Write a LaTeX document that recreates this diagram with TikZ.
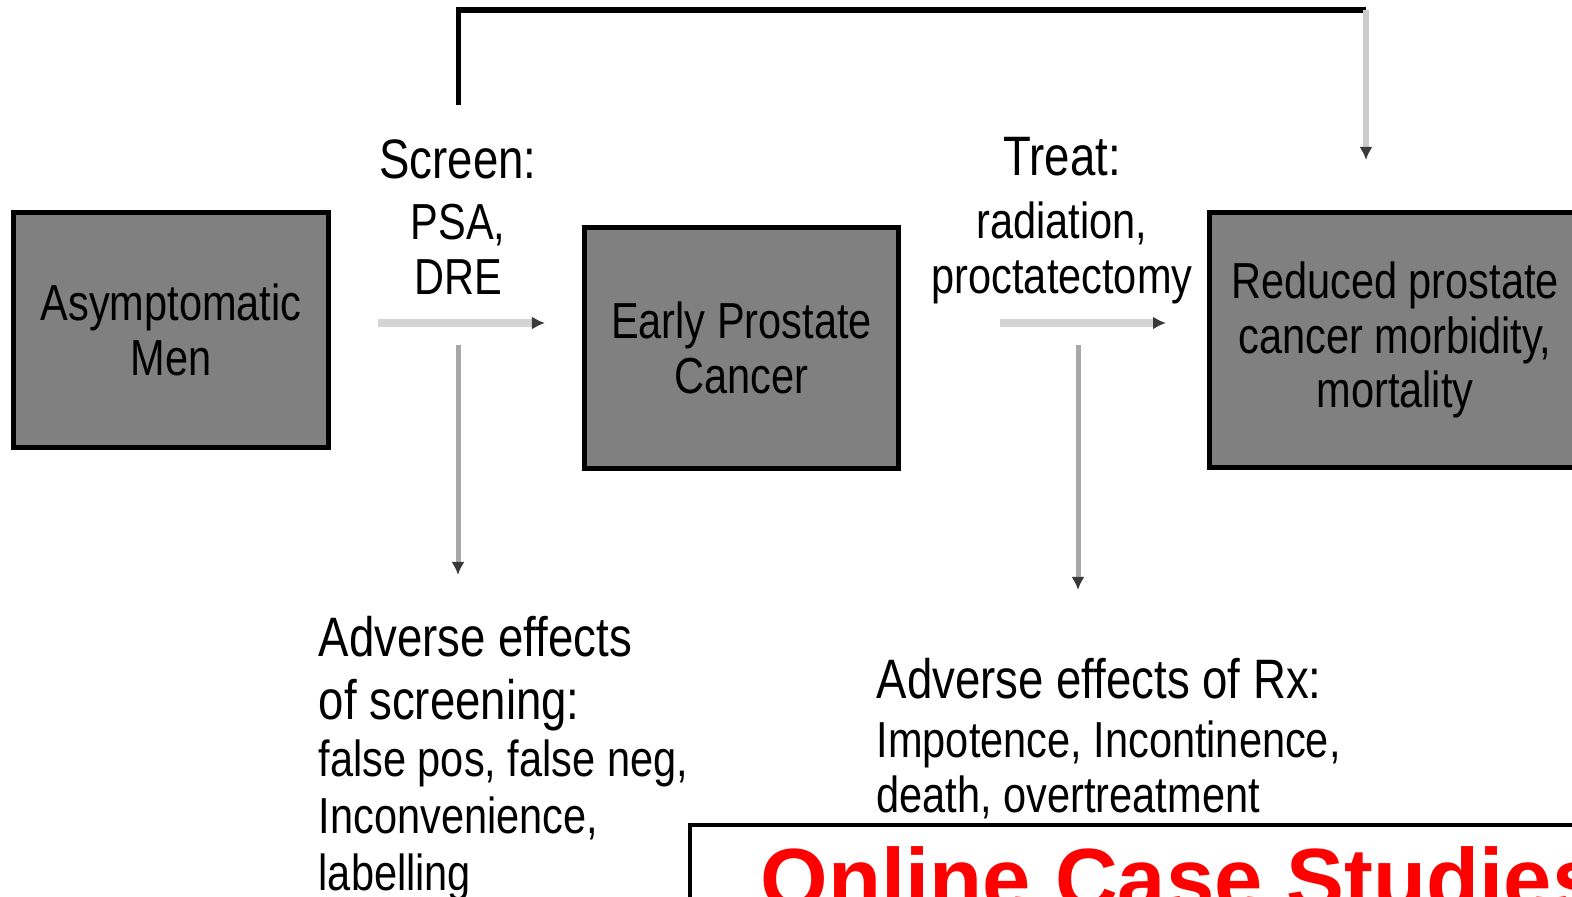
\documentclass[tikz,border=0pt]{standalone}
\usepackage{fontspec}
\setmainfont[FakeStretch=0.82]{Liberation Sans}
\newfontfamily\bannerfont{Liberation Sans}
\usepackage{tikz}
\usetikzlibrary{positioning,arrows.meta,calc}
\definecolor{boxgray}{HTML}{808080}
\definecolor{lightline}{HTML}{D4D4D4}
\definecolor{midline}{HTML}{A8A8A8}
\definecolor{tipdark}{HTML}{3A3A3A}
\definecolor{bannerred}{HTML}{FF0000}
\newcommand{\headsize}{\fontsize{15.8}{17}\selectfont}

\begin{document}
\begin{tikzpicture}[x=0.01cm, y=-0.01cm,
    stepbox/.style={draw=black, line width=0.05cm, fill=boxgray, align=center, inner sep=0pt, font=\fontsize{14.4}{15.6}\selectfont},
    lbl/.style={align=center, inner sep=0pt, font=\fontsize{14.4}{15.6}\selectfont},
    effects/.style={align=left, inner sep=0pt, font=\fontsize{14.4}{16.2}\selectfont},
    flowarrow/.style={draw=lightline, line width=0.08cm, -{Latex[length=0.13cm, width=0.13cm, color=tipdark]}},
    downarrow/.style={draw=midline, line width=0.05cm, -{Latex[length=0.13cm, width=0.13cm, color=tipdark]}}]
        \useasboundingbox (0,0) rectangle (1572,897);
        \clip (0,0) rectangle (1572,897);
        \node[stepbox, minimum width=3.14cm, minimum height=2.34cm] (asym) at (171,330) {Asymptomatic\\Men};
        \node[stepbox, minimum width=3.13cm, minimum height=2.40cm] (early) at (741.5,348) {Early Prostate\\Cancer};
        \node[stepbox, minimum width=3.70cm, minimum height=2.54cm] (reduced) at (1395,340) {Reduced prostate\\cancer morbidity,\\mortality};
        \node[lbl, anchor=base] (screen) at (458,294) {{\headsize Screen:}\\[0.06cm]PSA,\\DRE};
        \node[lbl, anchor=base] (treat) at (1062,293) {{\headsize Treat:}\\[0.08cm]radiation,\\proctatectomy};
        \node[effects, anchor=base west] (screenharm) at (318,890) {{\headsize Adverse effects}\\[0.06cm]{\headsize of screening:}\\false pos, false neg,\\Inconvenience,\\labelling};
        \node[effects, anchor=base west] (treatharm) at (876,812) {{\headsize Adverse effects of Rx:}\\[0.02cm]Impotence, Incontinence,\\[-0.02cm]death, overtreatment};
        \coordinate (screenin) at (378,323);
        \coordinate (screenout) at (545,323);
        \coordinate (treatin) at (1000,323);
        \coordinate (treatout) at (1166,323);
        \coordinate (screendrop) at (458,345);
        \coordinate (screenland) at (458,575);
        \coordinate (treatdrop) at (1078,345);
        \coordinate (treatland) at (1078,590);
        \coordinate (loopstart) at (458,105);
        \coordinate (loopcorner) at (1366,10);
        \coordinate (loopend) at (1366,160);
        \draw[flowarrow] (screenin) -- (screenout);
        \draw[flowarrow] (treatin) -- (treatout);
        \draw[downarrow] (screendrop) -- (screenland);
        \draw[downarrow] (treatdrop) -- (treatland);
        \draw[black, line width=0.05cm] (loopstart) |- (loopcorner);
        \draw[downarrow, draw=lightline!80!midline, line width=0.06cm] (loopcorner) -- (loopend);
        \node[draw=black, fill=white, line width=0.035cm, anchor=north west, minimum width=9.5cm, minimum height=1.2cm, inner sep=0pt] (banner) at (688,823) {};
        \node[anchor=base west, inner sep=0pt, text=bannerred, font=\bannerfont\bfseries\fontsize{24.7}{30}\selectfont] (online) at ($(banner.north west)+(72,86)$) {Online Case Studies};
      \end{tikzpicture}
\end{document}
